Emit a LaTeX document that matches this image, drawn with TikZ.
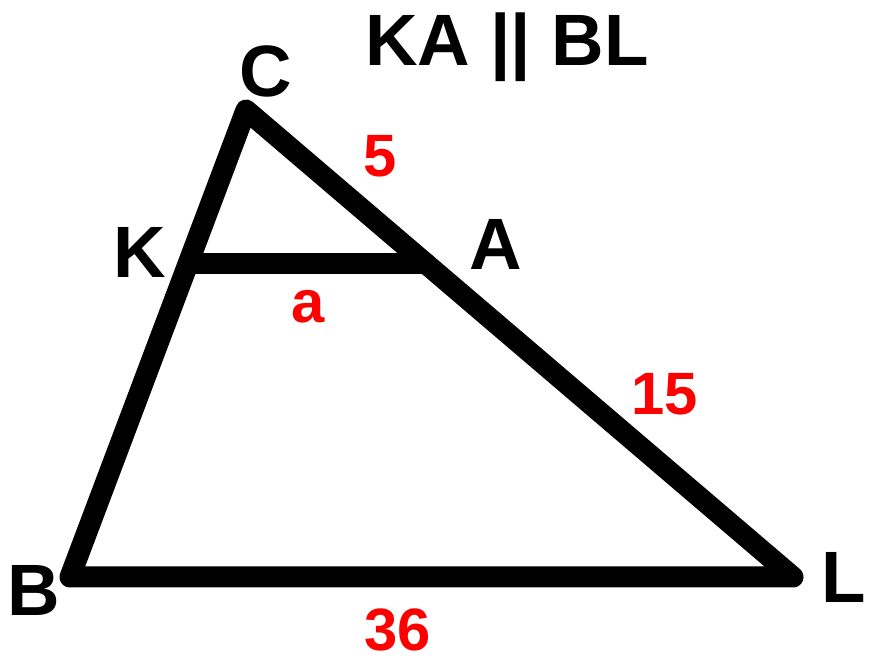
\documentclass[tikz,border=0pt]{standalone}
\usepackage{fontspec}
\setmainfont{Liberation Sans}
\tikzset{
  vlabel/.style={font=\fontsize{20.7}{24}\selectfont\bfseries, anchor=base, inner sep=0pt},
  seglabel/.style={font=\fontsize{17}{20}\selectfont\bfseries, text=red, anchor=base, inner sep=0pt},
  side/.style={line width=0.21cm, line join=round, line cap=round}
}
\begin{document}
\begin{tikzpicture}
\useasboundingbox (0,0) rectangle (8.75,6.70);

\coordinate (C) at (2.46,5.60);
\coordinate (B) at (0.70,0.93);
\coordinate (L) at (7.93,0.93);
\coordinate (K) at (1.89,4.06);
\coordinate (A) at (4.26,4.06);

\draw[side] (C) -- (B) -- (L) -- cycle;
\draw[side] (K) -- (A);

\node[vlabel] (labC) at (2.655,5.73) {C};
\node[vlabel] (labK) at (1.40,3.92) {K};
\node[vlabel] (labA) at (4.96,4.00) {A};
\node[vlabel] (labB) at (0.335,0.54) {B};
\node[vlabel] (labL) at (8.44,0.67) {L};
\node[vlabel] (title) at (5.07,6.04) {KA || BL};

\node[seglabel] (lenCA) at (3.80,4.93) {5};
\node[seglabel] (lenKA) at (3.085,3.47) {a};
\node[seglabel] (lenAL) at (6.645,2.55) {15};
\node[seglabel] (lenBL) at (3.98,0.20) {36};
\end{tikzpicture}
\end{document}
